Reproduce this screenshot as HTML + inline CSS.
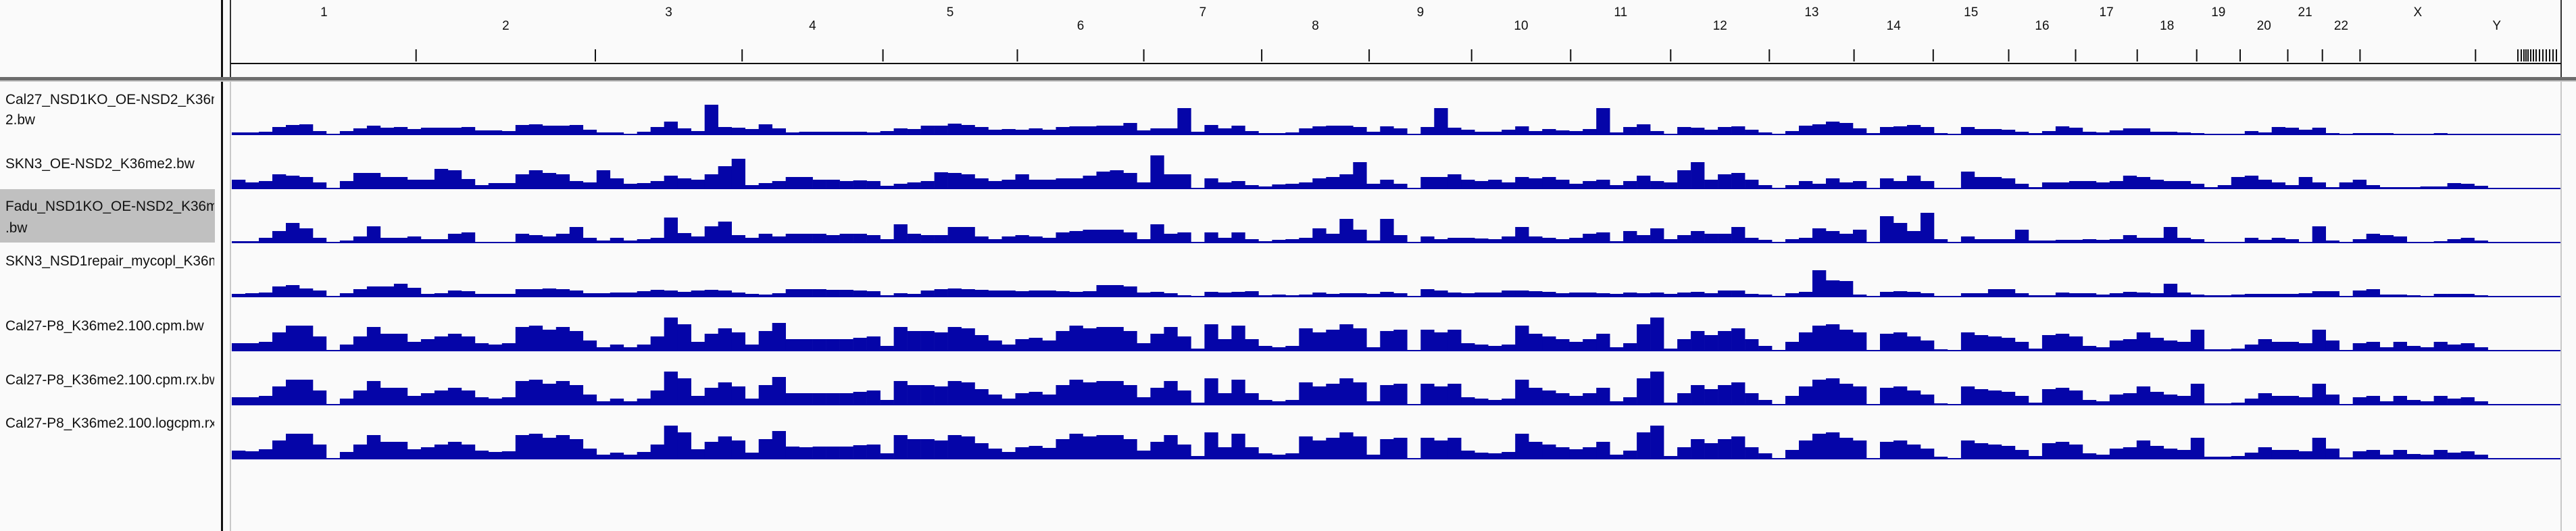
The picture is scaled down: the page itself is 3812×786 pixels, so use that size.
<!DOCTYPE html>
<html><head><meta charset="utf-8"><title>IGV genome view</title>
<style>
html,body{margin:0;padding:0;background:#fafafa;}
svg{display:block;}
text{font-family:"Liberation Sans",sans-serif;}
</style></head>
<body>
<svg id="chart" xmlns="http://www.w3.org/2000/svg" width="3812" height="786" viewBox="0 0 3812 786">
  <rect x="0" y="0" width="3812" height="786" fill="#fafafa"/>
  <g id="names">
    <rect x="0" y="280" width="318" height="79" fill="#c0c0c0"/>
  </g>
  <rect x="327" y="0" width="3" height="786" fill="#111"/>
  <rect x="340" y="0" width="2" height="786" fill="#c8c8c8"/>
  <rect x="340" y="0" width="2" height="115" fill="#333"/>
  <rect x="3789" y="0" width="2" height="115" fill="#333"/>
  <rect x="3789" y="119" width="2" height="667" fill="#c8c8c8"/>
  <g id="ruler"></g>
  <rect x="0" y="114" width="3812" height="5" fill="#6c6c6c"/>
  <rect x="0" y="119" width="3812" height="2" fill="#c8c8c8"/>
  <g id="tracks"></g>
</svg>
<script>
// chromosome names and lengths (Mb)
const chromNames = ["1","2","3","4","5","6","7","8","9","10","11","12","13","14","15","16","17","18","19","20","21","22","X","Y"];
const chromLengths = [248.96,242.19,198.30,190.21,181.54,170.81,159.35,145.14,138.39,133.80,135.09,133.28,114.36,107.04,101.99,90.34,83.26,80.37,58.62,64.44,46.71,50.82,156.04,57.23];
const binSizeMb = 18.25;
const trackNames = [
  ["Cal27_NSD1KO_OE-NSD2_K36me","2.bw"],
  ["SKN3_OE-NSD2_K36me2.bw"],
  ["Fadu_NSD1KO_OE-NSD2_K36me",".bw"],
  ["SKN3_NSD1repair_mycopl_K36me2.bw"],
  ["Cal27-P8_K36me2.100.cpm.bw"],
  ["Cal27-P8_K36me2.100.cpm.rx.bw"],
  ["Cal27-P8_K36me2.100.logcpm.rx.bw"]
];
const track1 = [4,4,5,12,15,16,6,0,6,10,14,11,12,9,11,11,11,12,7,7,6,15,16,14,14,15,8,4,4,2,5,12,20,10,6,45,12,11,9,16,10,4,5,
5,5,5,5,4,6,10,9,14,14,17,15,12,8,9,8,10,8,12,13,13,14,14,18,7,10,10,40,5,15,10,14,6,3,3,4,10,13,14,14,12,5,13,10,
0,12,40,11,8,5,5,8,13,6,9,7,6,9,40,4,12,16,6,2,12,11,8,12,13,8,4,0,6,14,16,20,18,10,3,12,13,15,12,3,1,12,9,9,
8,5,3,6,13,11,5,4,7,10,10,5,5,4,3,1,1,2,6,4,12,11,8,11,3,1,3,3,3,2,1,2,3,2,2,2];
const track2 = [14,10,12,22,20,18,10,0,12,24,24,18,18,14,14,30,28,15,6,9,9,22,28,24,22,12,10,28,16,8,9,12,20,16,14,22,34,45,6,9,12,18,18,
14,14,12,13,12,5,8,10,12,25,24,22,16,12,14,22,14,14,16,16,20,26,28,24,10,50,22,22,2,16,10,12,6,4,7,8,10,16,18,22,40,8,14,8,
0,18,18,22,14,12,14,10,18,16,18,14,8,12,14,6,12,20,12,10,28,40,14,22,24,14,6,2,6,12,8,16,10,12,2,16,12,20,12,2,1,26,18,18,
16,8,3,10,10,12,12,10,12,20,18,14,12,12,8,3,6,18,20,14,10,6,18,10,3,10,14,6,3,3,3,4,4,9,8,5];
const track3 = [3,3,8,18,30,22,8,0,4,10,25,8,8,10,6,6,14,16,2,2,2,14,12,10,14,24,8,4,8,4,6,8,38,15,10,25,32,12,8,14,10,14,14,
14,12,14,14,12,6,28,14,12,12,24,24,10,6,10,12,10,8,16,18,20,20,20,16,6,28,14,16,2,16,8,16,6,3,5,6,8,22,14,36,20,4,36,12,
0,10,6,8,8,7,6,10,24,10,8,6,8,14,16,3,18,12,22,6,12,18,14,14,24,8,5,1,6,8,22,18,14,20,2,40,30,18,45,6,1,10,6,6,
6,20,4,4,5,5,6,5,6,12,8,8,24,8,6,1,1,2,8,5,8,6,2,25,4,1,6,14,12,10,2,2,3,6,8,4];
const track4 = [5,6,7,16,18,13,10,0,6,12,16,16,20,14,5,6,10,9,5,5,5,12,12,13,12,10,6,6,7,7,9,11,10,8,10,11,10,7,5,4,6,12,12,
12,11,11,10,9,3,6,5,10,12,13,12,11,10,10,9,10,10,9,8,9,18,18,16,7,8,6,3,2,8,7,8,9,3,4,3,4,7,5,6,6,5,8,6,
0,12,10,7,6,7,7,10,10,9,8,6,7,7,6,5,7,6,7,5,7,8,6,10,10,5,4,1,6,8,40,25,24,4,1,8,9,8,6,2,1,6,6,12,
12,6,3,3,7,6,6,4,6,8,7,6,20,7,4,3,3,4,5,5,5,5,6,9,9,2,10,12,4,4,3,2,5,5,5,3];
const track5 = [12,12,14,28,38,38,22,1,10,22,36,26,26,14,18,22,26,22,12,10,12,36,38,32,36,30,16,6,10,6,10,22,50,40,14,26,34,28,10,30,42,18,18,
18,18,18,20,22,8,36,30,30,28,36,34,24,16,10,18,20,16,30,38,34,36,36,30,12,26,36,22,4,40,18,38,18,8,6,8,34,28,32,40,34,6,30,32,
1,32,28,32,12,10,8,10,38,26,22,18,14,18,26,6,12,40,50,4,18,30,24,30,34,18,8,1,14,28,38,40,32,28,1,26,28,22,16,3,1,28,24,22,
20,14,4,24,26,22,8,6,16,18,28,20,16,14,32,3,3,4,10,18,14,14,12,32,16,2,12,14,6,14,8,6,14,10,12,6];
const track6 = [12,12,14,28,38,38,22,1,10,22,36,26,26,14,18,22,26,22,12,10,12,36,38,32,36,30,16,6,10,6,10,22,50,40,14,26,34,28,10,30,42,18,18,
18,18,18,20,22,8,36,30,30,28,36,34,24,16,10,18,20,16,30,38,34,36,36,30,12,26,36,22,4,40,18,38,18,8,6,8,34,28,32,40,34,6,30,32,
1,32,28,32,12,10,8,10,38,26,22,18,14,18,26,6,12,40,50,4,18,30,24,30,34,18,8,1,14,28,38,40,32,28,1,26,28,22,16,3,1,28,24,22,
20,14,4,24,26,22,8,6,16,18,28,20,16,14,32,3,3,4,10,18,14,14,12,32,16,2,12,14,6,14,8,6,14,10,12,6];
const track7 = [13,12,15,28,38,38,22,1,11,22,36,26,26,15,18,22,26,22,13,11,12,36,38,32,36,30,16,7,10,7,11,22,50,40,15,26,34,28,10,30,42,19,18,
19,19,19,21,22,9,36,30,30,28,36,34,24,16,11,18,20,17,30,38,34,36,36,30,13,26,36,22,5,40,18,38,18,9,7,9,34,28,32,40,34,7,30,32,
2,32,28,32,13,10,9,11,38,26,22,18,15,18,26,7,13,40,50,5,18,30,24,30,34,18,9,2,14,28,38,40,32,28,2,26,28,22,16,4,2,28,24,22,
20,14,5,24,26,22,9,7,16,18,28,20,16,14,32,4,4,5,10,18,14,14,12,32,16,3,12,14,7,14,8,7,14,10,12,7];
const trackValues = [track1,track2,track3,track4,track5,track6,track7];

const NS = "http://www.w3.org/2000/svg";
const X0 = 343, X1 = 3726;
const genomeTotal = chromLengths.reduce((a,b)=>a+b,0);
function xScale(mb){ return X0 + (mb/genomeTotal)*(X1-X0); }
const TRACK_TOP = 120, TRACK_H = 80;
function baseY(t){ return TRACK_TOP + TRACK_H*(t+1); }
function hScale(v){ return Math.min(v, 78); }

function mk(tag, attrs, parent){
  const el = document.createElementNS(NS, tag);
  for (const k in attrs) el.setAttribute(k, attrs[k]);
  parent.appendChild(el);
  return el;
}

// ruler
const ruler = document.getElementById("ruler");
let line = mk("rect", {x:341, y:93, width:3449, height:2, fill:"#111"}, ruler);


let cum = 0;
chromNames.forEach((name, i) => {
  const start = cum, end = cum + chromLengths[i];
  cum = end;
  const xe = xScale(end);
  const tick = mk("rect", {x:(xe-1).toFixed(1), y:73, width:2, height:18, fill:"#111"}, ruler);
  
  
  const lbl = mk("text", {x:xScale((start+end)/2).toFixed(1), y:(i%2===0?24:44), "text-anchor":"middle", "font-size":"19", fill:"#111"}, ruler);
  lbl.textContent = name;
  
  
});
// unplaced contig ticks
const contigTicks = [3730,3734,3737,3740,3744,3748,3752,3757,3762,3767,3772,3777,3782];
contigTicks.forEach((cx) => {
  const t = mk("rect", {x:cx, y:73, width:2, height:18, fill:"#111"}, ruler);
  
  
});

// track names
const namesG = document.getElementById("names");
const nameCenters = [[147,177],[242],[305,337],[386],[482],[562],[626]];
trackNames.forEach((lines, t) => {
  lines.forEach((txt, j) => {
    const el = mk("text", {x:8, y:nameCenters[t][j]+7, "font-size":"20.8", fill:"#111", "clip-path":"url(#nameclip)"}, namesG);
    el.textContent = txt;
    
    
  });
});
const defs = mk("defs", {}, document.getElementById("chart"));
const cp = mk("clipPath", {id:"nameclip"}, defs);
mk("rect", {x:0, y:0, width:317, height:786}, cp);

// tracks
const tracksG = document.getElementById("tracks");
trackValues.forEach((vals, t) => {
  const g = mk("g", {}, tracksG);
  
  
  const by = baseY(t);
  const base = mk("rect", {x:343, y:by-2, width:3446, height:2, fill:"#0505a8"}, g);
  
  
  vals.forEach((v, i) => {
    const xa = xScale(i*binSizeMb), xb = xScale((i+1)*binSizeMb);
    const h = hScale(v);
    if (h <= 0) return;
    const r = mk("rect", {x:xa.toFixed(1), y:(by-h).toFixed(1), width:(xb-xa+0.3).toFixed(1), height:h, fill:"#0505a8"}, g);
    
    
  });
});
</script>
</body></html>
